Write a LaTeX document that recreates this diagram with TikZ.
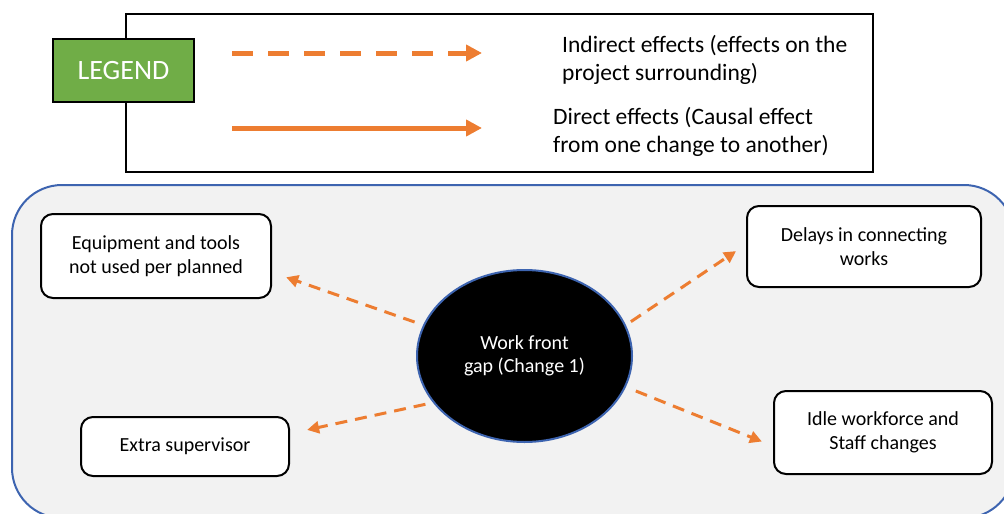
\documentclass[tikz,border=0pt]{standalone}
\usepackage{fontspec}
\setmainfont{Carlito}
\usetikzlibrary{arrows.meta,shapes.geometric}

\definecolor{effectorange}{HTML}{ED7D31}
\definecolor{legendgreen}{HTML}{70AD47}
\definecolor{panelfill}{HTML}{F2F2F2}
\definecolor{panelblue}{RGB}{61,100,176}

\tikzset{
  panel/.style={draw=panelblue, line width=2pt, fill=panelfill, rounded corners=50pt},
  legendframe/.style={draw=black, line width=2pt},
  legendbox/.style={draw=black, line width=2pt, fill=legendgreen, text=white,
    minimum width=141pt, minimum height=63pt, inner sep=0pt,
    font=\fontsize{28}{32}\selectfont},
  legendtext/.style={align=left, inner sep=0pt, anchor=west,
    font=\fontsize{23.5}{28}\selectfont},
  legendindirect/.style={draw=effectorange, line width=5pt,
    dash pattern=on 21pt off 15pt, -{Triangle[length=16pt,width=16pt]}},
  legenddirect/.style={draw=effectorange, line width=5pt,
    -{Triangle[length=16pt,width=16pt]}},
  changenode/.style={ellipse, draw=panelblue, line width=2pt, fill=black, text=white,
    minimum width=215pt, minimum height=172pt, inner sep=0pt, align=center,
    font=\fontsize{20}{23.5}\selectfont},
  effectbox/.style={draw=black, line width=2pt, fill=white, rounded corners=12pt,
    inner sep=0pt, align=center, font=\fontsize{20}{23.5}\selectfont},
  effect/.style={draw=effectorange, line width=3pt, dash pattern=on 12pt off 8pt,
    -{Triangle[length=12pt,width=12pt]}}
}

\begin{document}
\begin{tikzpicture}[x=1pt,y=-1pt]
\useasboundingbox (0,0) rectangle (1004,514);

% surrounding panel, running past the page edges
\begin{scope}
  \clip (0,0) rectangle (1004,514);
  \draw[panel] (12,185) rectangle (1014,518);
\end{scope}

% legend
\draw[legendframe] (126,14) rectangle (873,172);
\node[legendbox] (legend) at (123.5,70.5) {LEGEND};

\coordinate (indA) at (232,53);
\coordinate (indB) at (482,53);
\draw[legendindirect] (indA) -- (indB);
\node[legendtext] (indtext) at (562,60) {Indirect effects (effects on the\\project surrounding)};

\coordinate (dirA) at (232,128);
\coordinate (dirB) at (482,128);
\draw[legenddirect] (dirA) -- (dirB);
\node[legendtext] (dirtext) at (553,132) {Direct effects (Causal effect\\from one change to another)};

% change and its effects
\node[changenode] (gap) at (524.5,356) {Work front\\gap (Change 1)};

\node[effectbox, minimum width=230pt, minimum height=84pt] (equip) at (156,256)
  {Equipment and tools\\not used per planned};
\node[effectbox, minimum width=208pt, minimum height=59pt] (super) at (185,446.5)
  {Extra supervisor};
\node[effectbox, minimum width=234pt, minimum height=81pt] (delay) at (864,246.5)
  {Delays in connecting\\works};
\node[effectbox, minimum width=218pt, minimum height=83pt] (idle) at (883,432.5)
  {Idle workforce and\\Staff changes};

% arrows leave the ellipse with a small gap and stop short of the boxes
\draw[effect, shorten <=9pt, shorten >=15pt] (gap.163.7) -- (equip.-8);
\draw[effect, shorten <=7.7pt, shorten >=17.5pt] (gap.207.9) -- (super.7.5);
\draw[effect, shorten <=6pt, shorten >=12pt] (gap.17.9) -- (delay.179.5);
\draw[effect, shorten <=10.7pt, shorten >=12pt] (gap.-17.1) -- (idle.187.8);
\end{tikzpicture}
\end{document}
